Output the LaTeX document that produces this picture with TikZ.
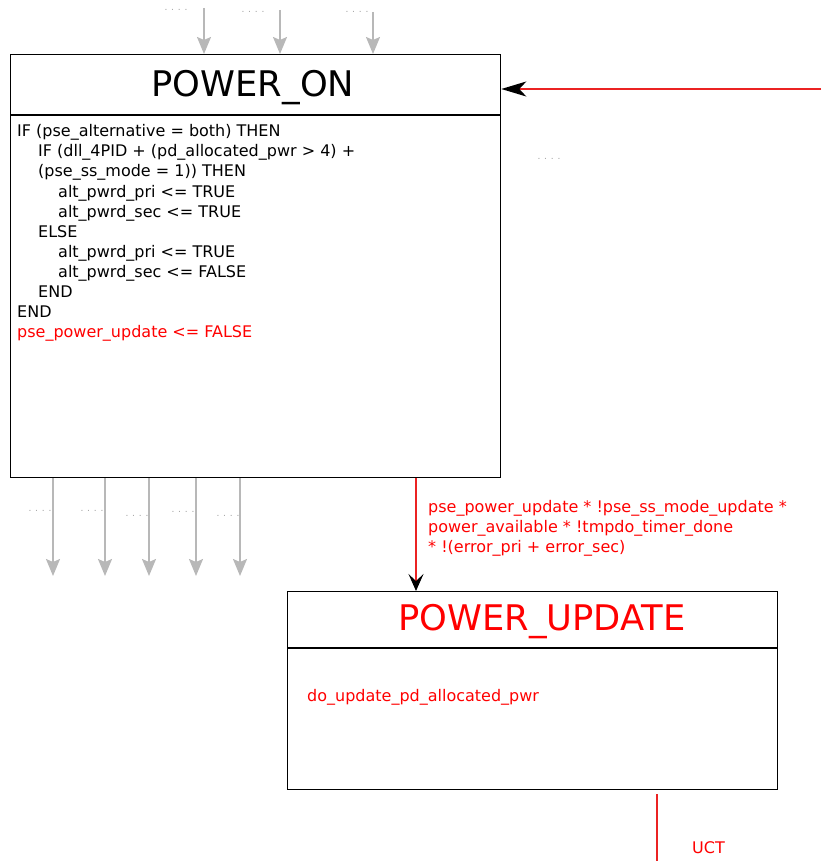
\documentclass[tikz,border=0pt]{standalone}
\usepackage{fontspec}
\setmainfont{DejaVu Sans}
\usetikzlibrary{arrows.meta}
\definecolor{lgray}{RGB}{184,184,184}
\definecolor{dgray}{RGB}{160,160,160}
\definecolor{lred}{RGB}{235,35,35}
\begin{document}
\begin{tikzpicture}[x=1pt,y=-1pt,
 state/.style={draw=black, line width=1.3pt, minimum width=490pt, anchor=north west, inner sep=0},
 body/.style={anchor=base west, inner sep=0, font=\fontsize{16}{18}\selectfont},
 rbody/.style={body, text=red},
 ttl/.style={anchor=base, inner sep=0, font=\fontsize{35.3}{40}\selectfont},
 ga/.style={draw=lgray, line width=1.9pt, -{Stealth[length=17pt,width=14pt,inset=3pt]}},
 dotlbl/.style={text=dgray, font=\fontsize{9}{9}\selectfont, inner sep=0},
 ra/.style={draw=lred, line width=1.6pt},
 blacktip/.style={-{Stealth[length=#1,width=15pt,inset=7pt,color=black]}},
]
\useasboundingbox (0,0) rectangle (821,861);

% POWER_ON state
\node[state, minimum height=423pt] (pon) at (10,54) {};
\coordinate (pdiv) at (0,115);
\draw[line width=1.3pt] (pon.west |- pdiv) -- (pon.east |- pdiv);
\node[ttl] (pont) at (253,97) {POWER\_ON};
\node[body] (l1) at (17,137) {IF (pse\_alternative = both) THEN};
\node[body] (l2) at (38,157) {IF (dll\_4PID + (pd\_allocated\_pwr > 4) +};
\node[body] (l3) at (38,177) {(pse\_ss\_mode = 1)) THEN};
\node[body] (l4) at (58,197) {alt\_pwrd\_pri <= TRUE};
\node[body] (l5) at (58,217) {alt\_pwrd\_sec <= TRUE};
\node[body] (l6) at (38,237) {ELSE};
\node[body] (l7) at (58,257) {alt\_pwrd\_pri <= TRUE};
\node[body] (l8) at (58,277) {alt\_pwrd\_sec <= FALSE};
\node[body] (l9) at (38,297) {END};
\node[body] (l10) at (17,317) {END};
\node[rbody] (l11) at (17,337) {pse\_power\_update <= FALSE};

% incoming gray arrows (top)
\coordinate (t1) at (204,8);
\coordinate (t2) at (280,10);
\coordinate (t3) at (373,12);
\draw[ga] (t1) -- (t1 |- pon.north);
\draw[ga] (t2) -- (t2 |- pon.north);
\draw[ga] (t3) -- (t3 |- pon.north);
\node[dotlbl] (dt1) at (176,10) {. . . .};
\node[dotlbl] (dt2) at (253,12) {. . . .};
\node[dotlbl] (dt3) at (357,12) {. . . .};

% incoming red arrow from right
\coordinate (r0) at (821,89);
\draw[ra, blacktip=25pt] (r0) -- (r0 -| pon.east);
\node[dotlbl] (dr) at (549,159) {. . . .};

% outgoing gray arrows (bottom)
\foreach \x/\dx/\dy [count=\i] in {53/40/511, 105/92/511, 149/137/516, 196/183/512, 240/228/516} {
  \coordinate (b\i) at (\x,576);
  \draw[ga] (b\i |- pon.south) -- (b\i);
  \node[dotlbl] (db\i) at (\dx,\dy) {. . . .};
}

% POWER_UPDATE state
\node[state, minimum height=198pt] (pu) at (287,591) {};
\coordinate (udiv) at (0,648);
\draw[line width=1.3pt] (pu.west |- udiv) -- (pu.east |- udiv);
\node[ttl, text=red] (put) at (542,630) {POWER\_UPDATE};
\node[rbody] (u1) at (307,701) {do\_update\_pd\_allocated\_pwr};

% transition POWER_ON -> POWER_UPDATE
\coordinate (d0) at (416,0);
\draw[ra, blacktip=17pt] (d0 |- pon.south) -- (d0 |- pu.north);
\node[rbody] (c1) at (428,512) {pse\_power\_update * !pse\_ss\_mode\_update *};
\node[rbody] (c2) at (428,532) {power\_available * !tmpdo\_timer\_done};
\node[rbody] (c3) at (428,552) {* !(error\_pri + error\_sec)};

% outgoing UCT
\coordinate (e0) at (657,794);
\coordinate (e1) at (657,861);
\draw[ra] (e0) -- (e1);
\node[rbody] (uct) at (692,853) {UCT};
\end{tikzpicture}
\end{document}
